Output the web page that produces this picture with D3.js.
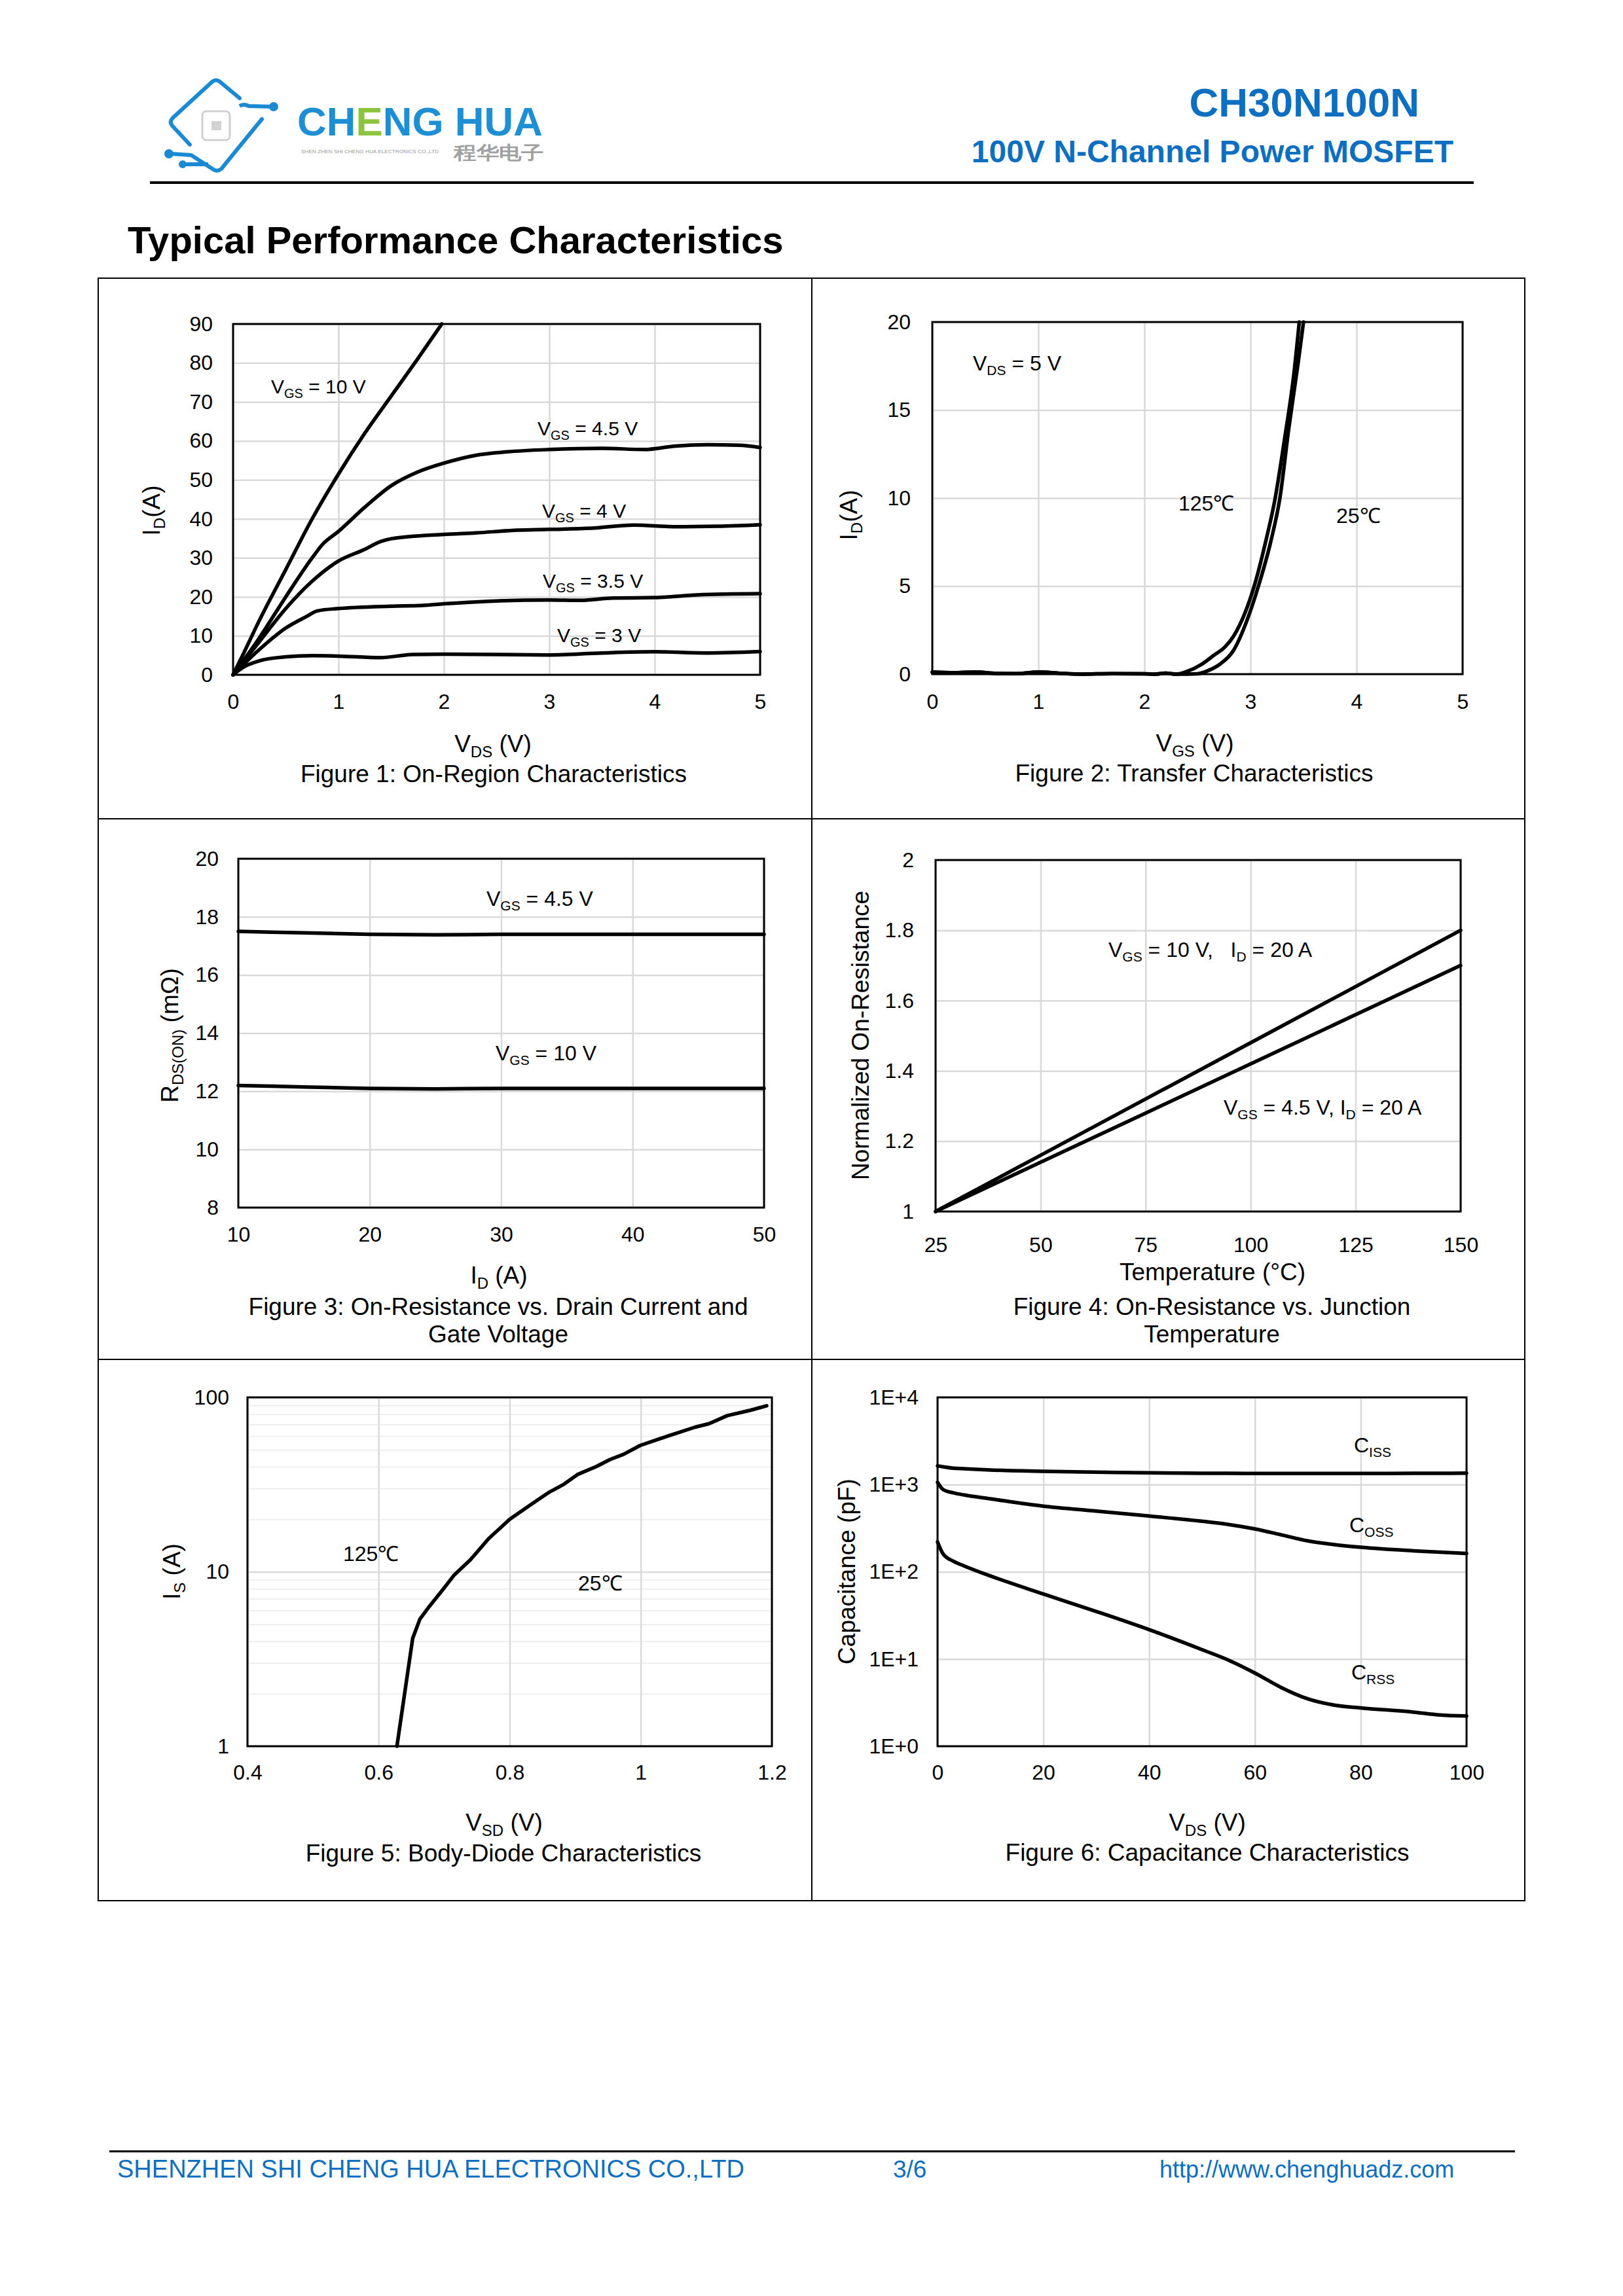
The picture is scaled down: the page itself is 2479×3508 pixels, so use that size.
<!DOCTYPE html>
<html><head><meta charset="utf-8">
<script src="https://cdn.jsdelivr.net/npm/d3@7"></script>
<style>body{margin:0;background:#fff}svg{display:block}text{font-family:"Liberation Sans",Arial,sans-serif}</style>
</head><body>
<script>
// ---------------- DATA ----------------
// Figure 1: On-Region Characteristics (VDS in V, ID in A)
const f1XTicks = [0, 1, 2, 3, 4, 5];
const f1YTicks = [0, 10, 20, 30, 40, 50, 60, 70, 80, 90];
const vgs10X = [0, 0.1, 0.25, 0.5, 0.75, 1.0, 1.25, 1.5, 1.75, 1.98];
const vgs10Y = [0, 5.5, 14, 27, 40, 51.5, 62, 71.5, 81, 90];
const vgs45X = [0, 0.25, 0.5, 0.75, 0.85, 1.0, 1.25, 1.5, 1.75, 2.0, 2.3, 2.6, 3.0, 3.5, 3.9, 4.2, 4.5, 4.8, 5.0];
const vgs45Y = [0, 9.5, 20, 30, 33.5, 36.8, 43, 48.5, 52, 54.3, 56.3, 57.2, 57.8, 58.1, 57.8, 58.7, 59, 58.9, 58.3];
const vgs4X = [0, 0.25, 0.5, 0.75, 1.0, 1.25, 1.4, 1.5, 2.0, 2.3, 2.7, 3.0, 3.4, 3.8, 4.2, 4.6, 5.0];
const vgs4Y = [0, 8.5, 17, 24, 29.2, 32.2, 34.2, 34.9, 36, 36.4, 37.1, 37.3, 37.6, 38.4, 38, 38.1, 38.5];
const vgs35X = [0, 0.25, 0.5, 0.7, 0.8, 1.0, 1.5, 1.8, 2.0, 2.3, 3.0, 3.3, 3.6, 4.0, 4.4, 5.0];
const vgs35Y = [0, 6.5, 12, 15, 16.4, 17, 17.6, 17.8, 18.2, 18.7, 19.2, 19.1, 19.7, 19.8, 20.5, 20.8];
const vgs3X = [0, 0.1, 0.25, 0.5, 0.75, 1.0, 1.4, 1.7, 2.0, 3.0, 3.5, 4.0, 4.5, 5.0];
const vgs3Y = [0, 2, 3.6, 4.6, 4.9, 4.8, 4.4, 5.2, 5.3, 5.1, 5.6, 5.9, 5.6, 5.95];

// Figure 2: Transfer Characteristics (VGS in V, ID in A)
const f2XTicks = [0, 1, 2, 3, 4, 5];
const f2YTicks = [0, 5, 10, 15, 20];
const offX = [0, 0.2, 0.4, 0.6, 0.8, 1.0, 1.2, 1.4, 1.7, 2.0, 2.1, 2.2];
const offY = [0.12, 0.08, 0.12, 0.04, 0.03, 0.12, 0.05, 0.0, 0.03, 0.02, 0.0, 0.06];
const t125X = [2.3, 2.4, 2.54, 2.65, 2.76, 2.84, 2.95, 3.04, 3.15, 3.23, 3.32, 3.41, 3.46];
const t125Y = [0, 0.15, 0.56, 1.05, 1.55, 2.15, 3.5, 5.1, 7.7, 9.9, 13.3, 17.1, 20];
const t25X = [2.3, 2.5, 2.6, 2.71, 2.84, 2.97, 3.08, 3.19, 3.28, 3.36, 3.45, 3.5];
const t25Y = [0, 0.02, 0.2, 0.56, 1.35, 3.1, 5.1, 7.5, 10.1, 13.9, 17.7, 20];

// Figure 3: On-Resistance vs Drain Current (ID in A, RDS(on) in mOhm)
const f3XTicks = [10, 20, 30, 40, 50];
const f3YTicks = [8, 10, 12, 14, 16, 18, 20];
const f3Id = [10, 15, 20, 25, 30, 35, 40, 45, 50];
const rVgs45 = [17.5, 17.45, 17.4, 17.38, 17.4, 17.4, 17.4, 17.4, 17.4];
const rVgs10 = [12.2, 12.15, 12.1, 12.08, 12.1, 12.1, 12.1, 12.1, 12.1];

// Figure 4: Normalized On-Resistance vs Temperature
const f4XTicks = [25, 50, 75, 100, 125, 150];
const f4YTicks = [1, 1.2, 1.4, 1.6, 1.8, 2];
const f4YLabels = ["1", "1.2", "1.4", "1.6", "1.8", "2"];
const f4Temp = [25, 50, 75, 100, 125, 150];
const nVgs10 = [1, 1.16, 1.32, 1.48, 1.64, 1.8];
const nVgs45 = [1, 1.14, 1.28, 1.42, 1.56, 1.7];

// Figure 5: Body-Diode Characteristics (VSD in V, IS in A, log)
const f5XTicks = [0.4, 0.6, 0.8, 1.0, 1.2];
const f5XLabels = ["0.4", "0.6", "0.8", "1", "1.2"];
const f5YTicks = [1, 10, 100];
const f5YMinor = [2, 3, 4, 5, 6, 7, 8, 9, 20, 30, 40, 50, 60, 70, 80, 90];
const vsd = [0.628, 0.652, 0.663, 0.677, 0.698, 0.715, 0.740, 0.768, 0.800, 0.831, 0.859, 0.883, 0.904, 0.932, 0.953, 0.974, 0.999, 1.027, 1.055, 1.083, 1.104, 1.132, 1.167, 1.192];
const isd = [1, 4.15, 5.35, 6.3, 7.9, 9.55, 11.7, 15.5, 20, 24.1, 28.4, 31.8, 36.2, 40.1, 44, 47.2, 53, 57.6, 62.4, 67.5, 70.6, 78.6, 84.3, 89.5];

// Figure 6: Capacitance Characteristics (VDS in V, C in pF, log)
const f6XTicks = [0, 20, 40, 60, 80, 100];
const f6YTicks = [1, 10, 100, 1000, 10000];
const f6YLabels = ["1E+0", "1E+1", "1E+2", "1E+3", "1E+4"];
const capV = [0, 1, 3, 5, 10, 20, 30, 40, 50, 55, 60, 65, 70, 75, 80, 90, 95, 100];
const ciss = [1640, 1600, 1540, 1520, 1470, 1416, 1390, 1365, 1350, 1345, 1340, 1340, 1340, 1340, 1340, 1345, 1348, 1352];
const coss = [1062, 883, 804, 761, 687, 565, 497, 436, 380, 349, 310, 265, 226, 205, 191, 174, 168, 162];
const crss = [220, 162, 132, 117, 89.5, 55.7, 35.1, 21.7, 12.8, 9.7, 6.9, 4.7, 3.49, 2.96, 2.75, 2.46, 2.28, 2.22];

// ---------------- DRAWING ----------------
const W = 2479, H = 3508;
const BLUE = "#0E6FC1";
const FONT = '"Liberation Sans", Arial, sans-serif';
const svg = d3.select("body").append("svg").attr("width", W).attr("height", H);
svg.append("rect").attr("width", W).attr("height", H).attr("fill", "#fff");

function rich(sel, parts, fs, sfs) {
  let prevSub = false;
  const off = Math.round(fs * 0.22);
  parts.forEach(p => {
    const s = typeof p === "string" ? p : p[0];
    const sub = typeof p !== "string";
    const t = sel.append("tspan").text(s).attr("font-size", sub ? sfs : fs);
    if (sub && !prevSub) t.attr("dy", off);
    if (!sub && prevSub) t.attr("dy", -off);
    prevSub = sub;
  });
  return sel;
}
function label(x, y, parts, fs, sfs, anchor) {
  const t = svg.append("text").attr("x", x).attr("y", y).attr("fill", "#000")
    .attr("text-anchor", anchor || "start").attr("font-family", FONT).attr("xml:space", "preserve");
  return rich(t, parts, fs, sfs);
}
function ctext(cx, cy, parts, fs, sfs) { return label(cx, cy + fs * 0.35, parts, fs, sfs, "middle"); }
function vtext(cx, cy, parts, fs, sfs) {
  const t = svg.append("text").attr("transform", `translate(${cx},${cy}) rotate(-90)`)
    .attr("y", fs * 0.35).attr("text-anchor", "middle").attr("fill", "#000").attr("font-family", FONT);
  return rich(t, parts, fs, sfs);
}

// ---- Header ----
const logo = svg.append("g");
logo.append("path").attr("d", "M366,150 L336,125 Q330,120 324,125 L264,180 Q258,186 263,192 L290,221")
  .attr("fill", "none").attr("stroke", "#1B8AD3").attr("stroke-width", 6).attr("stroke-linejoin", "round").attr("stroke-linecap", "round");
logo.append("path").attr("d", "M262,235 L292,237 L326,259 Q332,263 338,258 L400,182")
  .attr("fill", "none").attr("stroke", "#1B8AD3").attr("stroke-width", 6).attr("stroke-linejoin", "round").attr("stroke-linecap", "round");
logo.append("path").attr("d", "M282,251 L318,251").attr("stroke", "#1B8AD3").attr("stroke-width", 6);
logo.append("path").attr("d", "M366,162 Q372,158 380,162 L416,163").attr("fill", "none").attr("stroke", "#1B8AD3").attr("stroke-width", 6);
logo.append("circle").attr("cx", 418).attr("cy", 163).attr("r", 7).attr("fill", "#1B8AD3");
logo.append("circle").attr("cx", 258).attr("cy", 235).attr("r", 7).attr("fill", "#1B8AD3");
logo.append("circle").attr("cx", 279).attr("cy", 251).attr("r", 6).attr("fill", "#1B8AD3");
logo.append("rect").attr("x", 309).attr("y", 170).attr("width", 42).attr("height", 44).attr("rx", 6)
  .attr("fill", "none").attr("stroke", "#cfcfcf").attr("stroke-width", 3);
logo.append("rect").attr("x", 323).attr("y", 185).attr("width", 15).attr("height", 14).attr("fill", "#d3d3d3");
const brand = svg.append("text").attr("x", 454).attr("y", 207).attr("font-family", '"Open Sans", sans-serif')
  .attr("font-weight", 700).attr("font-size", 62).attr("textLength", 375).attr("lengthAdjust", "spacingAndGlyphs");
brand.append("tspan").text("CH").attr("fill", "#1E8FD5");
brand.append("tspan").text("E").attr("fill", "#8CC43F");
brand.append("tspan").text("NG HUA").attr("fill", "#1E8FD5");
svg.append("text").attr("x", 460).attr("y", 234).attr("font-size", 8).attr("fill", "#999")
  .attr("textLength", 210).attr("lengthAdjust", "spacingAndGlyphs").text("SHEN ZHEN SHI CHENG HUA ELECTRONICS CO.,LTD");
svg.append("text").attr("x", 693).attr("y", 243).attr("font-size", 28).attr("font-weight", 700).attr("fill", "#a0a0a0")
  .attr("font-family", '"Noto Sans CJK SC", sans-serif').attr("textLength", 138).attr("lengthAdjust", "spacingAndGlyphs").text("程华电子");

svg.append("text").attr("x", 2168).attr("y", 178).attr("text-anchor", "end").attr("font-weight", 700)
  .attr("font-size", 62).attr("fill", BLUE).attr("font-family", FONT).text("CH30N100N");
svg.append("text").attr("x", 2220).attr("y", 248).attr("text-anchor", "end").attr("font-weight", 700)
  .attr("font-size", 48).attr("fill", BLUE).attr("font-family", FONT).text("100V N-Channel Power MOSFET");
svg.append("line").attr("x1", 229).attr("x2", 2251).attr("y1", 279).attr("y2", 279).attr("stroke", "#000").attr("stroke-width", 4);
svg.append("text").attr("x", 195).attr("y", 387).attr("font-weight", 700).attr("font-size", 58)
  .attr("fill", "#000").attr("font-family", FONT).text("Typical Performance Characteristics");

// ---- Panel frame ----
const frame = svg.append("g").attr("stroke", "#000").attr("stroke-width", 2).attr("fill", "none");
frame.append("rect").attr("x", 150).attr("y", 425).attr("width", 2179).attr("height", 2479);
frame.append("line").attr("x1", 1240).attr("x2", 1240).attr("y1", 425).attr("y2", 2904);
frame.append("line").attr("x1", 150).attr("x2", 2329).attr("y1", 1251).attr("y2", 1251);
frame.append("line").attr("x1", 150).attr("x2", 2329).attr("y1", 2077).attr("y2", 2077);

// ---- Plot helper ----
function plot(c) {
  const x = (c.xLog ? d3.scaleLog() : d3.scaleLinear()).domain(c.xDomain).range([c.x0, c.x1]);
  const y = (c.yLog ? d3.scaleLog() : d3.scaleLinear()).domain(c.yDomain).range([c.y1, c.y0]);
  const g = svg.append("g");
  const clean = s => { s.select(".domain").remove(); s.attr("font-family", null).attr("font-size", null); };
  if (c.yMinor) {
    g.append("g").attr("transform", `translate(${c.x0},0)`)
      .call(d3.axisLeft(y).tickValues(c.yMinor).tickSize(-(c.x1 - c.x0)).tickFormat(""))
      .call(clean).selectAll("line").attr("stroke", "#eeeeee").attr("stroke-width", 2);
  }
  g.append("g").attr("transform", `translate(${c.x0},0)`)
    .call(d3.axisLeft(y).tickValues(c.yTicks).tickSize(-(c.x1 - c.x0)).tickFormat(""))
    .call(clean).selectAll("line").attr("stroke", "#d9d9d9").attr("stroke-width", 2.5);
  g.append("g").attr("transform", `translate(0,${c.y1})`)
    .call(d3.axisBottom(x).tickValues(c.xTicks).tickSize(-(c.y1 - c.y0)).tickFormat(""))
    .call(clean).selectAll("line").attr("stroke", "#d9d9d9").attr("stroke-width", 2.5);
  // tick labels
  const yl = g.append("g").attr("transform", `translate(${c.x0},0)`)
    .call(d3.axisLeft(y).tickValues(c.yTicks).tickSize(0).tickPadding(c.yPad)
      .tickFormat((d, i) => c.yLabels ? c.yLabels[i] : String(d)))
    .call(clean);
  yl.selectAll("line").remove();
  yl.selectAll("text").attr("font-size", 32).attr("font-family", FONT).attr("fill", "#000");
  const xl = g.append("g").attr("transform", `translate(0,${c.y1})`)
    .call(d3.axisBottom(x).tickValues(c.xTicks).tickSize(0).tickPadding(c.xPad)
      .tickFormat((d, i) => c.xLabels ? c.xLabels[i] : String(d)))
    .call(clean);
  xl.selectAll("line").remove();
  xl.selectAll("text").attr("font-size", 32).attr("font-family", FONT).attr("fill", "#000");
  const lines = g.append("g");
  g.append("rect").attr("x", c.x0).attr("y", c.y0).attr("width", c.x1 - c.x0).attr("height", c.y1 - c.y0)
    .attr("fill", "none").attr("stroke", "#000").attr("stroke-width", 3);
  return {x, y, g: lines};
}
function curve(p, xs, ys, curveType) {
  const ln = d3.line().x(d => p.x(d[0])).y(d => p.y(d[1])).curve(curveType || d3.curveMonotoneX);
  p.g.append("path").datum(d3.zip(xs, ys)).attr("d", ln).attr("fill", "none").attr("stroke", "#000")
    .attr("stroke-width", 5.5).attr("stroke-linejoin", "round").attr("stroke-linecap", "round");
}

const FA1 = 30, FA = 32, FAS = 21, FT = 37, FTS = 24;
const NB = "\u00A0";

// ---- Figure 1 ----
const p1 = plot({x0: 356, x1: 1161, y0: 495, y1: 1031, xDomain: [0, 5], yDomain: [0, 90],
  xTicks: f1XTicks, yTicks: f1YTicks, yPad: 31, xPad: 29});
curve(p1, vgs10X, vgs10Y);
curve(p1, vgs45X, vgs45Y);
curve(p1, vgs4X, vgs4Y);
curve(p1, vgs35X, vgs35Y);
curve(p1, vgs3X, vgs3Y);
label(414, 601, ["V", ["GS"], " = 10 V"], FA1, 20);
label(821, 665, ["V", ["GS"], " = 4.5 V"], FA1, 20);
label(828, 791, ["V", ["GS"], " = 4 V"], FA1, 20);
label(829, 898, ["V", ["GS"], " = 3.5 V"], FA1, 20);
label(851, 981, ["V", ["GS"], " = 3 V"], FA1, 20);
vtext(231, 780, ["I", ["D"], "(A)"], FT, FTS);
ctext(753, 1136, ["V", ["DS"], " (V)"], FT, FTS);
ctext(754, 1182, ["Figure 1: On-Region Characteristics"], FT, FTS);

// ---- Figure 2 ----
const p2 = plot({x0: 1424, x1: 2234, y0: 492, y1: 1030, xDomain: [0, 5], yDomain: [0, 20],
  xTicks: f2XTicks, yTicks: f2YTicks, yPad: 33, xPad: 30});
curve(p2, offX.concat(t125X), offY.concat(t125Y));
curve(p2, offX.concat(t25X), offY.concat(t25Y));
label(1486, 566, ["V", ["DS"], " = 5 V"], FA, FAS);
label(1800, 780, ["125℃"], FA, FAS);
label(2041, 799, ["25℃"], FA, FAS);
vtext(1296, 787, ["I", ["D"], "(A)"], FT, FTS);
ctext(1825, 1135, ["V", ["GS"], " (V)"], FT, FTS);
ctext(1824, 1181, ["Figure 2: Transfer Characteristics"], FT, FTS);

// ---- Figure 3 ----
const p3 = plot({x0: 364, x1: 1167, y0: 1312, y1: 1845, xDomain: [10, 50], yDomain: [8, 20],
  xTicks: f3XTicks, yTicks: f3YTicks, yPad: 30, xPad: 29});
curve(p3, f3Id, rVgs45);
curve(p3, f3Id, rVgs10);
label(743, 1384, ["V", ["GS"], " = 4.5 V"], FA, FAS);
label(757, 1620, ["V", ["GS"], " = 10 V"], FA, FAS);
vtext(259, 1582, ["R", ["DS(ON)"], " (mΩ)"], FT, FTS);
ctext(762, 1948, ["I", ["D"], " (A)"], FT, FTS);
ctext(761, 1996, ["Figure 3: On-Resistance vs. Drain Current and"], FT, FTS);
ctext(761, 2038, ["Gate Voltage"], FT, FTS);

// ---- Figure 4 ----
const p4 = plot({x0: 1429, x1: 2231, y0: 1314, y1: 1851, xDomain: [25, 150], yDomain: [1, 2],
  xTicks: f4XTicks, yTicks: f4YTicks, yLabels: f4YLabels, yPad: 33, xPad: 39});
curve(p4, f4Temp, nVgs10, d3.curveLinear);
curve(p4, f4Temp, nVgs45, d3.curveLinear);
label(1693, 1462, ["V", ["GS"], " = 10 V," + NB + NB + " I", ["D"], " = 20 A"], FA, FAS);
label(1869, 1703, ["V", ["GS"], " = 4.5 V, I", ["D"], " = 20 A"], FA, FAS);
vtext(1314, 1582, ["Normalized On-Resistance"], FT, FTS);
ctext(1852, 1943, ["Temperature (°C)"], FT, FTS);
ctext(1851, 1996, ["Figure 4: On-Resistance vs. Junction"], FT, FTS);
ctext(1851, 2038, ["Temperature"], FT, FTS);

// ---- Figure 5 ----
const p5 = plot({x0: 378, x1: 1179, y0: 2135, y1: 2668, xDomain: [0.4, 1.2], yDomain: [1, 100], yLog: true,
  xTicks: f5XTicks, xLabels: f5XLabels, yTicks: f5YTicks, yMinor: f5YMinor, yPad: 28, xPad: 28});
curve(p5, vsd, isd, d3.curveLinear);
label(524, 2385, ["125℃"], FA, FAS);
label(883, 2430, ["25℃"], FA, FAS);
vtext(262, 2401, ["I", ["S"], " (A)"], FT, FTS);
ctext(770, 2784, ["V", ["SD"], " (V)"], FT, FTS);
ctext(769, 2831, ["Figure 5: Body-Diode Characteristics"], FT, FTS);

// ---- Figure 6 ----
const p6 = plot({x0: 1432, x1: 2240, y0: 2135, y1: 2668, xDomain: [0, 100], yDomain: [1, 10000], yLog: true,
  xTicks: f6XTicks, yTicks: f6YTicks, yLabels: f6YLabels, yPad: 29, xPad: 28});
curve(p6, capV, ciss);
curve(p6, capV, coss);
curve(p6, capV, crss);
label(2068, 2219, ["C", ["ISS"]], FA, FAS);
label(2061, 2341, ["C", ["OSS"]], FA, FAS);
label(2064, 2566, ["C", ["RSS"]], FA, FAS);
vtext(1293, 2401, ["Capacitance (pF)"], FT, FTS);
ctext(1844, 2784, ["V", ["DS"], " (V)"], FT, FTS);
ctext(1844, 2830, ["Figure 6: Capacitance Characteristics"], FT, FTS);

// ---- Footer ----
svg.append("line").attr("x1", 167).attr("x2", 2314).attr("y1", 3287).attr("y2", 3287).attr("stroke", "#000").attr("stroke-width", 3);
const footX = [179, 1364, 1771];
const footText = ["SHENZHEN SHI CHENG HUA ELECTRONICS CO.,LTD", "3/6", "http://www.chenghuadz.com"];
const footSize = [38, 37, 36];
footText.forEach((ft, i) => svg.append("text").attr("x", footX[i]).attr("y", 3327).attr("font-size", footSize[i])
  .attr("fill", BLUE).attr("font-family", FONT).text(ft));
</script>
</body></html>
